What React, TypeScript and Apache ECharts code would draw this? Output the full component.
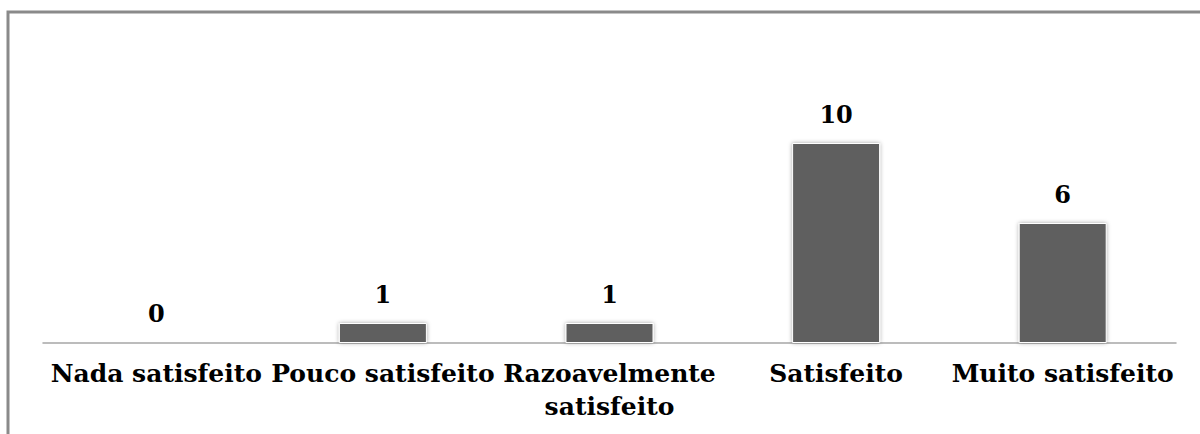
import React, { useEffect, useRef } from "react";
import * as echarts from "echarts";

const categories = [
  "Nada satisfeito",
  "Pouco satisfeito",
  "Razoavelmente\nsatisfeito",
  "Satisfeito",
  "Muito satisfeito",
];
const values = [0, 1, 1, 10, 6];

export default function App() {
  const ref = useRef<HTMLDivElement>(null);
  useEffect(() => {
    if (!ref.current) return;
    const chart = echarts.init(ref.current, null, { renderer: "svg" });
    chart.setOption({
      animation: false,
      backgroundColor: "#ffffff",
      grid: { left: 43, right: 24, top: 63, bottom: 91 },
      xAxis: {
        type: "category",
        data: categories,
        axisLine: { show: true, lineStyle: { color: "#a6a6a6", width: 1.5 } },
        axisTick: { show: false },
        axisLabel: {
          interval: 0,
          margin: 14,
          color: "#000",
          fontFamily: "DejaVu Serif",
          fontWeight: "bold",
          fontSize: 25,
          lineHeight: 33,
        },
      },
      yAxis: {
        type: "value",
        min: 0,
        max: 14,
        show: false,
        splitLine: { show: false },
      },
      series: [
        {
          type: "bar",
          data: values,
          barWidth: 88,
          itemStyle: {
            color: "#5f5f5f",
            borderColor: "#ffffff",
            borderWidth: 1,
            shadowBlur: 4,
            shadowColor: "rgba(0,0,0,0.35)",
          },
          label: {
            show: true,
            position: "top",
            distance: 17,
            color: "#000",
            fontFamily: "DejaVu Serif",
            fontWeight: "bold",
            fontSize: 24,
          },
        },
      ],
      graphic: [
        {
          type: "polyline",
          shape: { points: [[8, 434], [8, 12], [1200, 12]] },
          style: { stroke: "#8a8a8a", lineWidth: 3, fill: "none" },
        },
      ],
    });
    return () => chart.dispose();
  }, []);
  return (
    <div
      ref={ref}
      style={{ position: "absolute", left: 0, top: 0, width: 1200, height: 434 }}
    />
  );
}
